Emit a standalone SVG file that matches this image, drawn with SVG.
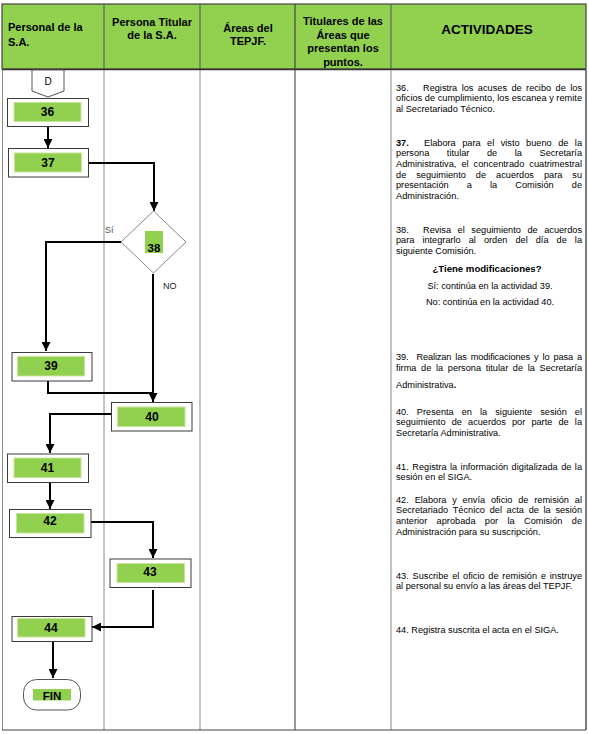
<svg xmlns="http://www.w3.org/2000/svg" width="589" height="734" viewBox="0 0 589 734">
<defs>
<style>
.hd{font-family:"Liberation Sans",Arial,sans-serif;font-weight:bold;font-size:11px;fill:#000}
.t{font-family:"Liberation Sans",Arial,sans-serif;font-size:9.2px;fill:#000}
.lb{font-family:"Liberation Sans",Arial,sans-serif;font-weight:bold;font-size:12px;fill:#000;text-anchor:middle}
.box{fill:#fff;stroke:#3a3a3a;stroke-width:1}
.in{fill:#92D050;stroke:#C9E59B;stroke-width:1}
.cn{fill:none;stroke:#000;stroke-width:2}
.col{stroke:#8a8a8a;stroke-width:1}
</style>
<marker id="ah" viewBox="0 0 10 10" refX="10" refY="5" markerWidth="9" markerHeight="9" markerUnits="userSpaceOnUse" orient="auto">
<path d="M0,0 L10,5 L0,10 z" fill="#000"/>
</marker>
</defs>
<rect x="0" y="0" width="589" height="734" fill="#fff"/>
<!-- header -->
<g id="header">
<rect x="2" y="4" width="584" height="65" fill="#92D050" stroke="#444" stroke-width="1.2"/>
<line x1="104" y1="4" x2="104" y2="69" stroke="#555"/>
<line x1="200" y1="4" x2="200" y2="69" stroke="#555"/>
<line x1="295" y1="4" x2="295" y2="69" stroke="#333"/>
<line x1="391" y1="4" x2="391" y2="69" stroke="#555"/>
<line x1="2" y1="69.5" x2="586" y2="69.5" stroke="#333" stroke-width="1.5"/>
<text class="hd" x="8" y="31">Personal de la</text>
<text class="hd" x="8" y="45.5">S.A.</text>
<text class="hd" x="152" y="26" text-anchor="middle">Persona Titular</text>
<text class="hd" x="152" y="39" text-anchor="middle">de la S.A.</text>
<text class="hd" x="248" y="31.5" text-anchor="middle">Áreas del</text>
<text class="hd" x="248" y="44.5" text-anchor="middle">TEPJF.</text>
<text class="hd" x="343" y="25" text-anchor="middle">Titulares de las</text>
<text class="hd" x="343" y="38.5" text-anchor="middle">Áreas que</text>
<text class="hd" x="343" y="52" text-anchor="middle">presentan los</text>
<text class="hd" x="343" y="65.5" text-anchor="middle">puntos.</text>
<text class="hd" x="487" y="34" text-anchor="middle" style="font-size:13.5px">ACTIVIDADES</text>
</g>
<!-- body grid -->
<g id="grid">
<line class="col" x1="2.5" y1="70" x2="2.5" y2="730"/>
<line class="col" x1="104" y1="70" x2="104" y2="730"/>
<line class="col" x1="200" y1="70" x2="200" y2="730"/>
<line x1="295" y1="70" x2="295" y2="730" stroke="#333" stroke-width="1"/>
<line class="col" x1="391" y1="70" x2="391" y2="730"/>
<line x1="586" y1="70" x2="586" y2="730" stroke="#222" stroke-width="1.2"/>
<line x1="2" y1="730" x2="586" y2="730" stroke="#444" stroke-width="1.2"/>
</g>
<!-- connectors -->
<g id="connectors">
<path class="cn" d="M48,126 V148" marker-end="url(#ah)"/>
<path class="cn" d="M89,163 H154 V211" marker-end="url(#ah)"/>
<path class="cn" d="M121,242 H46 V351" marker-end="url(#ah)"/>
<path class="cn" d="M153,274 V402" marker-end="url(#ah)"/>
<path class="cn" d="M48,381 V393 H153"/>
<path class="cn" d="M111,414 H50 V453" marker-end="url(#ah)"/>
<path class="cn" d="M50,483 V509" marker-end="url(#ah)"/>
<path class="cn" d="M91,522 H153 V558" marker-end="url(#ah)"/>
<path class="cn" d="M153,590 V627 H92" marker-end="url(#ah)"/>
<path class="cn" d="M53,641 V678" marker-end="url(#ah)"/>
</g>
<g id="nD">
<path d="M32,70 H64 V91 L48,97 L32,91 Z" fill="#fff" stroke="#555" stroke-width="1"/>
<text x="48" y="84.5" text-anchor="middle" style="font-family:'Liberation Sans',Arial,sans-serif;font-size:10px">D</text>
</g>
<g id="n36">
<rect class="box" x="7.5" y="98.5" width="81" height="28"/>
<rect class="in" x="14" y="102.5" width="67" height="19"/>
<text class="lb" x="47.5" y="116">36</text>
</g>
<g id="n37">
<rect class="box" x="8.5" y="148.5" width="80" height="28.5"/>
<rect class="in" x="14.5" y="153" width="67" height="19"/>
<text class="lb" x="48" y="166.5">37</text>
</g>
<g id="n38">
<path d="M153.5,211 L186,242 L153.5,273 L121,242 Z" fill="#fff" stroke="#888" stroke-width="1"/>
<rect x="145" y="231" width="18" height="22" fill="#92D050"/>
<text class="lb" x="154" y="252" style="font-size:11.5px">38</text>
<text x="105" y="233" style="font-family:'Liberation Sans',Arial,sans-serif;font-size:9px;fill:#555">Sí</text>
<text x="163" y="289" style="font-family:'Liberation Sans',Arial,sans-serif;font-size:9px;fill:#222">NO</text>
</g>
<g id="n39">
<rect class="box" x="12" y="352.5" width="80" height="28.5"/>
<rect class="in" x="17.5" y="356.5" width="67" height="19.5"/>
<text class="lb" x="51" y="370">39</text>
</g>
<g id="n40">
<rect class="box" x="111.5" y="402.5" width="80.5" height="28.5"/>
<rect class="in" x="117.5" y="407" width="67.5" height="19.5"/>
<text class="lb" x="152" y="420.5">40</text>
</g>
<g id="n41">
<rect class="box" x="7.5" y="454" width="81" height="28.5"/>
<rect class="in" x="14" y="458" width="67" height="19.5"/>
<text class="lb" x="47.5" y="471.5">41</text>
</g>
<g id="n42">
<rect class="box" x="9.5" y="509.5" width="81.5" height="28"/>
<rect class="in" x="16.5" y="513.5" width="67.5" height="19.5"/>
<text class="lb" x="50" y="524.5">42</text>
</g>
<g id="n43">
<rect class="box" x="110" y="559" width="81" height="28.5"/>
<rect class="in" x="117" y="563.5" width="67.5" height="19"/>
<text class="lb" x="150" y="575.5">43</text>
</g>
<g id="n44">
<rect class="box" x="12" y="616.5" width="80" height="25"/>
<rect class="in" x="17.5" y="618.5" width="67.5" height="18.5"/>
<text class="lb" x="51" y="631.5">44</text>
</g>
<g id="nFIN">
<rect x="23.5" y="679.5" width="57" height="30.5" rx="13" ry="13" fill="#fff" stroke="#555" stroke-width="1"/>
<rect x="33" y="689" width="38" height="11.5" fill="#92D050"/>
<text class="lb" x="52" y="699.5" style="font-size:11.5px">FIN</text>
</g>
<!-- activities -->
<g id="activities">
<text class="t" x="396" y="90.5">36.</text>
<text class="t" x="423" y="90.5" textLength="159" lengthAdjust="spacing" style="word-spacing:1.9px">Registra los acuses de recibo de los</text>
<text class="t" x="396" y="101.2" textLength="186" lengthAdjust="spacing">oficios de cumplimiento, los escanea y remite</text>
<text class="t" x="396" y="111.9">al Secretariado Técnico.</text>

<text class="t" x="396" y="145.5" style="font-weight:bold">37.</text>
<text class="t" x="424" y="145.5" textLength="158" lengthAdjust="spacing" style="word-spacing:3.9px">Elabora para el visto bueno de la</text>
<text class="t" x="396" y="156.2" textLength="186" lengthAdjust="spacing" style="word-spacing:15px">persona titular de la Secretaría</text>
<text class="t" x="396" y="166.9" textLength="186" lengthAdjust="spacing" style="word-spacing:2.5px">Administrativa, el concentrado cuatrimestral</text>
<text class="t" x="396" y="177.6" textLength="186" lengthAdjust="spacing" style="word-spacing:7.4px">de seguimiento de acuerdos para su</text>
<text class="t" x="396" y="188.3" textLength="186" lengthAdjust="spacing" style="word-spacing:15.6px">presentación a la Comisión de</text>
<text class="t" x="396" y="199">Administración.</text>

<text class="t" x="396" y="232.5">38.</text>
<text class="t" x="423" y="232.5" textLength="159" lengthAdjust="spacing" style="word-spacing:4px">Revisa el seguimiento de acuerdos</text>
<text class="t" x="396" y="243.2" textLength="186" lengthAdjust="spacing" style="word-spacing:5.5px">para integrarlo al orden del día de la</text>
<text class="t" x="396" y="253.9">siguiente Comisión.</text>
<text class="t" x="487" y="271.5" text-anchor="middle" style="font-weight:bold;font-size:9.6px">¿Tiene modificaciones?</text>
<text class="t" x="490" y="288.5" text-anchor="middle">Sí: continúa en la actividad 39.</text>
<text class="t" x="490" y="304.5" text-anchor="middle">No: continúa en la actividad 40.</text>

<text class="t" x="396" y="359.5" textLength="186" lengthAdjust="spacing" style="word-spacing:1.5px" xml:space="preserve">39.  Realizan las modificaciones y lo pasa a</text>
<text class="t" x="396" y="370.5" textLength="186" lengthAdjust="spacing" style="word-spacing:2.1px">firma de la persona titular de la Secretaría</text>
<text class="t" x="396" y="387.5">Administrativa<tspan style="font-weight:bold">.</tspan></text>

<text class="t" x="396" y="414.5" textLength="186" lengthAdjust="spacing" style="word-spacing:5.5px">40. Presenta en la siguiente sesión el</text>
<text class="t" x="396" y="425.2" textLength="186" lengthAdjust="spacing" style="word-spacing:3.6px">seguimiento de acuerdos por parte de la</text>
<text class="t" x="396" y="435.9">Secretaría Administrativa.</text>

<text class="t" x="396" y="469.5" textLength="186" lengthAdjust="spacing" style="word-spacing:0.9px">41. Registra la información digitalizada de la</text>
<text class="t" x="396" y="480.2">sesión en el SIGA.</text>

<text class="t" x="396" y="502.5" textLength="186" lengthAdjust="spacing" style="word-spacing:3.3px">42. Elabora y envía oficio de remisión al</text>
<text class="t" x="396" y="513.2" textLength="186" lengthAdjust="spacing" style="word-spacing:2.1px">Secretariado Técnico del acta de la sesión</text>
<text class="t" x="396" y="523.9" textLength="186" lengthAdjust="spacing" style="word-spacing:6.8px">anterior aprobada por la Comisión de</text>
<text class="t" x="396" y="534.6">Administración para su suscripción.</text>

<text class="t" x="396" y="578.5" textLength="186" lengthAdjust="spacing" style="word-spacing:1.2px">43. Suscribe el oficio de remisión e instruye</text>
<text class="t" x="396" y="589.2">al personal su envío a las áreas del TEPJF.</text>

<text class="t" x="396" y="633">44. Registra suscrita el acta en el SIGA.</text>
</g>
</svg>
